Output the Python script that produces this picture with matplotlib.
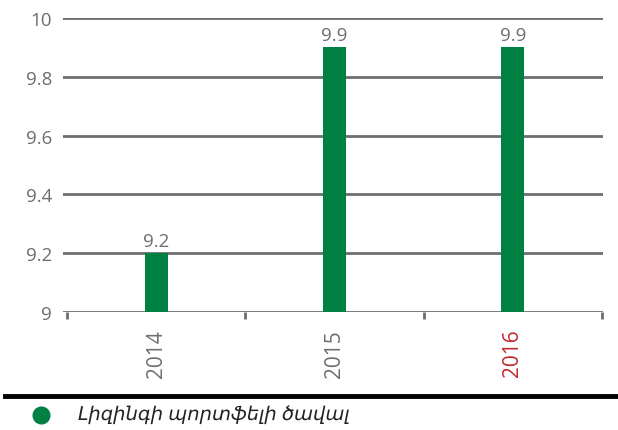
import matplotlib.pyplot as plt
from matplotlib.lines import Line2D

years = ["2014", "2015", "2016"]
values = [9.2, 9.9, 9.9]
labels = ["9.2", "9.9", "9.9"]
yticks = [9, 9.2, 9.4, 9.6, 9.8, 10]
ytick_labels = ["9", "9.2", "9.4", "9.6", "9.8", "10"]
legend_label = "Լիզինգի պորտֆելի ծավալ"

green = "#008043"
grey = "#6d6e71"
red = "#c1272d"
fonts = ["Open Sans", "Noto Sans", "DejaVu Sans"]
plt.rcParams["font.family"] = fonts

fig = plt.figure(figsize=(6.18, 4.31), dpi=100)
ax = fig.add_axes([63 / 618, 1 - 313 / 431, (603 - 63) / 618, (313 - 19) / 431])

x = list(range(len(years)))
ax.bar(x, [v - 9 for v in values], bottom=9, width=0.13, color=green, zorder=3)
for xi, v, lab in zip(x, values, labels):
    ax.text(xi, v + 0.012, lab, ha="center", va="bottom", fontsize=13.5, color=grey)

# category boundaries sit at 67..602 px, gridlines start a bit further left
unit = (602 - 67) / 3
ax.set_xlim(-0.5 - 4 / unit, 2.5 + 1 / unit)
ax.set_ylim(9, 10)
ax.set_yticks(yticks)
ax.set_yticklabels(ytick_labels, fontsize=13.5, color=grey)
for y in yticks:
    ax.axhline(y, color=grey, lw=2, zorder=1)

ax.set_xticks([-0.5, 0.5, 1.5, 2.5])
ax.set_xticklabels([])
ax.tick_params(axis="x", direction="out", length=5, width=2, color=grey)
ax.tick_params(axis="y", length=0, pad=8)
for xi, yr in zip(x, years):
    ax.text(xi, 8.943, yr, rotation=90, ha="center", va="top", fontsize=15,
            color=red if yr == "2016" else grey)
for s in ax.spines.values():
    s.set_visible(False)

fig.add_artist(Line2D([5 / 618, 1], [1 - 397 / 431] * 2, color="black", lw=3.5))
fig.add_artist(Line2D([41 / 618], [1 - 416 / 431], marker="o", markersize=12,
                      color=green, lw=0))
fig.text(78 / 618, 1 - 415 / 431, legend_label, style="italic", fontsize=14,
         color="#222222", va="center", ha="left")

fig.savefig("out.png", dpi=100)
